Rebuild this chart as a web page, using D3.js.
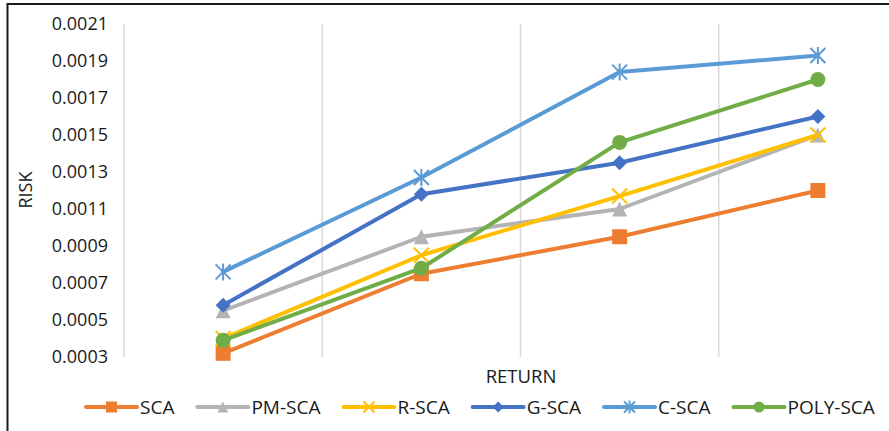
<!DOCTYPE html>
<html>
<head>
<meta charset="utf-8">
<script src="https://cdn.jsdelivr.net/npm/d3@7"></script>
<style>
  body { margin: 0; background: #fff; }
  text { font-family: "Open Sans", sans-serif; fill: #1a1a1a; }
</style>
</head>
<body>
<div id="chart"></div>
<script>
// data
var categories = ["1", "2", "3", "4"];
var seriesNames = ["SCA", "PM-SCA", "R-SCA", "G-SCA", "C-SCA", "POLY-SCA"];
var sca = [0.00032, 0.00075, 0.00095, 0.0012];
var pmSca = [0.00055, 0.00095, 0.0011, 0.0015];
var rSca = [0.0004, 0.00085, 0.00117, 0.0015];
var gSca = [0.00058, 0.00118, 0.00135, 0.0016];
var cSca = [0.00076, 0.00127, 0.00184, 0.00193];
var polySca = [0.00039, 0.00078, 0.00146, 0.0018];
var yTicks = [0.0003, 0.0005, 0.0007, 0.0009, 0.0011, 0.0013, 0.0015, 0.0017, 0.0019, 0.0021];

var values = [sca, pmSca, rSca, gSca, cSca, polySca];
var colors = ["#ED7D31", "#B4B4B4", "#FFC000", "#4472C4", "#5B9BD5", "#70AD47"];
var shapes = ["square", "triangle", "x", "diamond", "star", "circle"];

var W = 889, H = 431;
var svg = d3.select("#chart").append("svg").attr("width", W).attr("height", H);

// chart border (cropped on right/bottom)
svg.append("path")
  .attr("d", "M7.5," + H + " V4 H" + W)
  .attr("fill", "none")
  .attr("stroke", "#1a1a1a")
  .attr("stroke-width", 2);

var x = d3.scaleBand().domain(categories).range([124, 917]);
var y = d3.scaleLinear().domain([0.0003, 0.0021]).range([357, 24]);

// vertical gridlines at band edges
var edges = categories.map(function (c) { return x(c); }).concat([x.range()[1]]);
svg.selectAll(".grid")
  .data(edges)
  .enter()
  .append("line")
  .attr("x1", function (d) { return d; })
  .attr("x2", function (d) { return d; })
  .attr("y1", y.range()[1])
  .attr("y2", y.range()[0])
  .attr("stroke", "#D9D9D9")
  .attr("stroke-width", 1.5);

// y axis labels
var yAxis = svg.append("g")
  .attr("transform", "translate(108,0)")
  .call(d3.axisLeft(y).tickValues(yTicks).tickFormat(d3.format(".4f")).tickSize(0).tickPadding(0));
yAxis.select(".domain").remove();
yAxis.selectAll("text")
  .style("font-family", "'Open Sans', sans-serif")
  .attr("font-size", "18px")
  .attr("fill", "#1a1a1a");

// axis titles
svg.append("text")
  .attr("transform", "translate(32,190) rotate(-90)")
  .attr("text-anchor", "middle")
  .attr("font-size", "18px")
  .text("RISK");
svg.append("text")
  .attr("x", 521)
  .attr("y", 383)
  .attr("text-anchor", "middle")
  .attr("font-size", "18.5px")
  .text("RETURN");

function marker(sel, shape, color, s) {
  var h = s / 2;
  if (shape === "square") {
    sel.append("rect").attr("x", -h).attr("y", -h).attr("width", s).attr("height", s).attr("fill", color);
  } else if (shape === "circle") {
    sel.append("circle").attr("r", h).attr("fill", color);
  } else if (shape === "diamond") {
    sel.append("path").attr("d", "M0," + (-h) + "L" + h + ",0L0," + h + "L" + (-h) + ",0Z").attr("fill", color);
  } else if (shape === "triangle") {
    sel.append("path").attr("d", "M0," + (-h) + "L" + h + "," + h + "L" + (-h) + "," + h + "Z").attr("fill", color);
  } else if (shape === "x") {
    sel.append("path").attr("d", "M" + (-h) + "," + (-h) + "L" + h + "," + h + "M" + h + "," + (-h) + "L" + (-h) + "," + h)
      .attr("stroke", color).attr("stroke-width", 2).attr("fill", "none");
  } else if (shape === "star") {
    sel.append("path").attr("d", "M" + (-h) + "," + (-h) + "L" + h + "," + h + "M" + h + "," + (-h) + "L" + (-h) + "," + h +
      "M0," + (-h - 1) + "L0," + (h + 1))
      .attr("stroke", color).attr("stroke-width", 2).attr("fill", "none");
  }
}

var line = d3.line()
  .x(function (d, i) { return x(categories[i]) + x.bandwidth() / 2; })
  .y(function (d) { return y(d); });

values.forEach(function (vals, k) {
  var g = svg.append("g");
  g.append("path")
    .attr("d", line(vals))
    .attr("fill", "none")
    .attr("stroke", colors[k])
    .attr("stroke-width", 4)
    .attr("stroke-linejoin", "round")
    .attr("stroke-linecap", "round");
  vals.forEach(function (v, i) {
    var m = g.append("g")
      .attr("transform", "translate(" + (x(categories[i]) + x.bandwidth() / 2) + "," + y(v) + ")");
    marker(m, shapes[k], colors[k], 15);
  });
});

// legend
var lx = 86, ly = 407;
seriesNames.forEach(function (name, k) {
  var g = svg.append("g").attr("transform", "translate(" + lx + "," + ly + ")");
  g.append("line")
    .attr("x1", 0).attr("x2", 51)
    .attr("stroke", colors[k]).attr("stroke-width", 4).attr("stroke-linecap", "round");
  var m = g.append("g").attr("transform", "translate(25.5,0)");
  marker(m, shapes[k], colors[k], 11);
  var t = g.append("text")
    .attr("x", 54)
    .attr("y", 7)
    .attr("font-size", "19px")
    .text(name);
  lx += 54 + t.node().getComputedTextLength() + 23;
});
</script>
</body>
</html>
